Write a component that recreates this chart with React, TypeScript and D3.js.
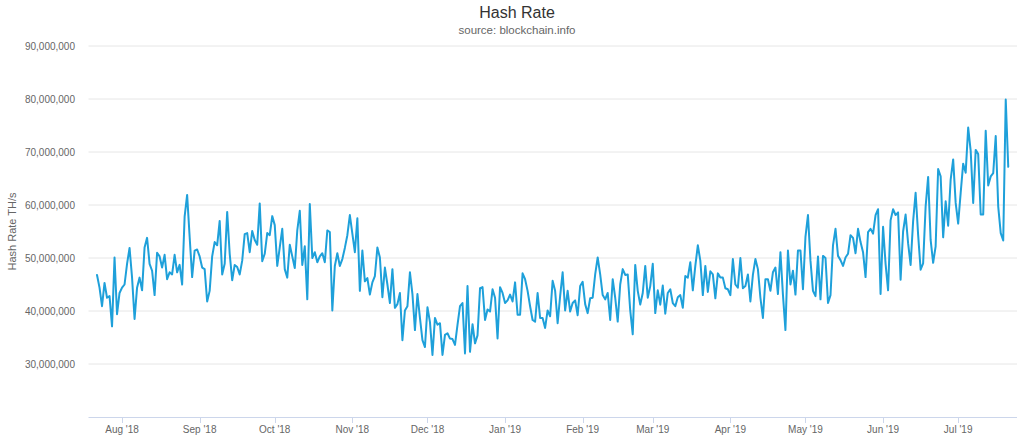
import React from "react";
import * as d3 from "d3";

// ---- data (values in millions of TH/s, daily from startDate) ----
const startDate = Date.UTC(2018, 6, 22);
const hashRateM: number[] = [
  46.8, 44.4, 40.9, 45.3, 42.5, 42.8, 37.1, 50.1, 39.4, 43.4, 44.4, 45.0, 48.9, 51.9, 46.3, 38.5, 44.4, 46.3, 43.9, 52.0, 53.8, 48.9, 47.6, 43.0, 51.0, 50.3, 48.2, 50.6, 46.0, 47.3, 46.9, 50.6, 47.3, 48.7, 45.0, 57.8, 61.9, 54.0, 46.4, 51.4, 51.6, 50.3, 48.2, 47.9,
  41.8, 43.8, 50.3, 53.0, 52.4, 57.0, 46.9, 48.9, 58.7, 50.8, 45.8, 48.7, 48.3, 46.9, 49.5, 54.5, 54.7, 51.1, 55.1, 53.4, 52.5, 60.3, 49.4, 50.8, 54.7, 54.3, 57.9, 56.2, 48.5, 52.0, 55.5, 47.9, 46.3, 52.5, 50.3, 48.1, 55.2, 58.9, 48.7, 52.2, 42.2, 60.2, 50.0, 51.1, 49.2, 50.3,
  50.9, 49.2, 55.2, 54.9, 40.1, 48.5, 50.9, 48.5, 49.8, 51.9, 54.3, 58.1, 54.6, 51.1, 57.5, 43.8, 51.4, 45.6, 46.2, 43.1, 45.4, 46.6, 52.0, 50.1, 42.6, 48.2, 45.0, 41.5, 47.9, 40.6, 41.3, 43.4, 34.5, 40.1, 40.9, 47.3, 43.2, 36.4, 43.2, 38.7, 34.5, 33.2, 40.7, 37.9, 31.7, 38.7,
  37.4, 37.7, 31.7, 35.5, 35.8, 34.8, 34.7, 33.6, 37.4, 40.9, 41.5, 32.0, 44.7, 32.3, 37.5, 33.9, 35.4, 44.3, 44.5, 38.3, 40.3, 39.9, 44.1, 42.5, 34.8, 44.5, 43.4, 41.5, 42.0, 43.1, 41.8, 45.4, 39.3, 39.3, 47.1, 46.0, 43.8, 40.9, 38.3, 38.0, 43.4, 38.7, 38.7, 36.8, 40.1, 39.0,
  45.7, 43.8, 37.7, 42.8, 47.3, 40.1, 43.8, 39.9, 41.5, 42.0, 39.2, 44.7, 45.5, 41.3, 39.6, 42.4, 42.5, 46.9, 50.1, 46.9, 43.0, 42.2, 43.4, 38.3, 46.0, 42.5, 38.0, 45.0, 47.9, 46.8, 46.9, 40.1, 35.6, 48.7, 43.8, 41.2, 43.4, 48.5, 42.5, 44.7, 48.9, 39.6, 43.9, 41.2, 44.8, 39.5,
  43.4, 44.1, 41.5, 40.9, 42.6, 43.0, 40.6, 46.6, 46.3, 49.2, 43.9, 48.5, 52.4, 49.5, 43.0, 48.5, 43.6, 47.5, 46.9, 42.4, 47.1, 46.3, 46.3, 44.3, 44.1, 43.0, 49.8, 45.0, 44.4, 50.0, 44.3, 44.7, 46.9, 41.8, 46.8, 49.8, 47.9, 42.5, 38.7, 46.0, 46.0, 43.8, 47.3, 48.2, 43.2, 51.1,
  43.1, 36.4, 51.4, 45.0, 47.6, 43.1, 51.4, 51.4, 44.1, 54.0, 58.1, 49.5, 43.8, 42.8, 50.3, 42.2, 50.4, 50.0, 41.5, 43.0, 52.4, 55.5, 50.4, 49.6, 48.5, 50.1, 50.8, 54.3, 53.8, 50.9, 55.5, 53.0, 51.1, 46.4, 54.9, 55.5, 54.6, 58.1, 59.2, 43.2, 55.9, 48.9, 43.9, 57.1, 59.2, 58.1,
  58.6, 45.9, 55.0, 58.2, 52.8, 48.7, 56.9, 62.3, 54.4, 47.8, 49.0, 59.7, 65.3, 53.4, 49.1, 52.2, 66.8, 65.4, 53.9, 60.7, 56.1, 64.8, 68.6, 60.4, 56.5, 62.3, 67.8, 66.1, 74.6, 70.2, 60.4, 70.4, 69.6, 58.2, 58.2, 74.0, 63.7, 65.4, 66.0, 73.0, 59.7, 54.7, 53.3, 79.9, 67.2,
];
const yTickValues: number[] = [30e6, 40e6, 50e6, 60e6, 70e6, 80e6, 90e6];
const xTickDates: Date[] = [
  new Date(Date.UTC(2018, 7, 1)), new Date(Date.UTC(2018, 8, 1)), new Date(Date.UTC(2018, 9, 1)),
  new Date(Date.UTC(2018, 10, 1)), new Date(Date.UTC(2018, 11, 1)), new Date(Date.UTC(2019, 0, 1)),
  new Date(Date.UTC(2019, 1, 1)), new Date(Date.UTC(2019, 2, 1)), new Date(Date.UTC(2019, 3, 1)),
  new Date(Date.UTC(2019, 4, 1)), new Date(Date.UTC(2019, 5, 1)), new Date(Date.UTC(2019, 6, 1)),
];
const titleText = "Hash Rate";
const subtitleText = "source: blockchain.info";
const yAxisTitle = "Hash Rate TH/s";

const DAY = 86400000;
const W = 1024;
const H = 437;
const left = 88.5;
const right = 1017;
const top = 46;
const bottom = 417;

export default function App() {
  const data = hashRateM.map((v, i) => ({ date: new Date(startDate + i * DAY), value: v * 1e6 }));
  const x = d3
    .scaleUtc()
    .domain([new Date(startDate - 3.4 * DAY), new Date(startDate + (hashRateM.length - 1 + 3.5) * DAY)])
    .range([left, right]);
  const y = d3.scaleLinear().domain([20e6, 90e6]).range([bottom, top]);
  const line = d3
    .line<{ date: Date; value: number }>()
    .x((d) => x(d.date))
    .y((d) => y(d.value));
  const fmtY = d3.format(",");
  const fmtX = d3.utcFormat("%b '%y");
  const font = "'Liberation Sans', Arial, sans-serif";

  return (
    <svg
      width={W}
      height={H}
      style={{ position: "absolute", left: 0, top: 0, background: "#fff" }}
      fontFamily={font}
    >
      <text x={517} y={18} textAnchor="middle" fontSize={16} fill="#333">
        {titleText}
      </text>
      <text x={517} y={34} textAnchor="middle" fontSize={11.5} fill="#666">
        {subtitleText}
      </text>
      {yTickValues.map((t) => (
        <g key={t}>
          <line x1={left} x2={right} y1={y(t)} y2={y(t)} stroke="#e6e6e6" strokeWidth={1} />
          <text x={75} y={y(t) + 3.5} textAnchor="end" fontSize={10} fill="#666">
            {fmtY(t)}
          </text>
        </g>
      ))}
      <text
        transform={`translate(16, ${(top + bottom) / 2}) rotate(-90)`}
        textAnchor="middle"
        fontSize={11}
        fill="#666"
      >
        {yAxisTitle}
      </text>
      <line x1={left} x2={right} y1={bottom + 0.5} y2={bottom + 0.5} stroke="#ccd6eb" strokeWidth={1} />
      {xTickDates.map((d) => (
        <g key={d.getTime()}>
          <line
            x1={Math.round(x(d)) + 0.5}
            x2={Math.round(x(d)) + 0.5}
            y1={bottom}
            y2={bottom + 6}
            stroke="#ccd6eb"
            strokeWidth={1}
          />
          <text x={x(d)} y={bottom + 16} textAnchor="middle" fontSize={10} fill="#666">
            {fmtX(d)}
          </text>
        </g>
      ))}
      <path d={line(data) || ""} fill="none" stroke="#1ea0da" strokeWidth={2} strokeLinejoin="round" strokeLinecap="round" />
    </svg>
  );
}
